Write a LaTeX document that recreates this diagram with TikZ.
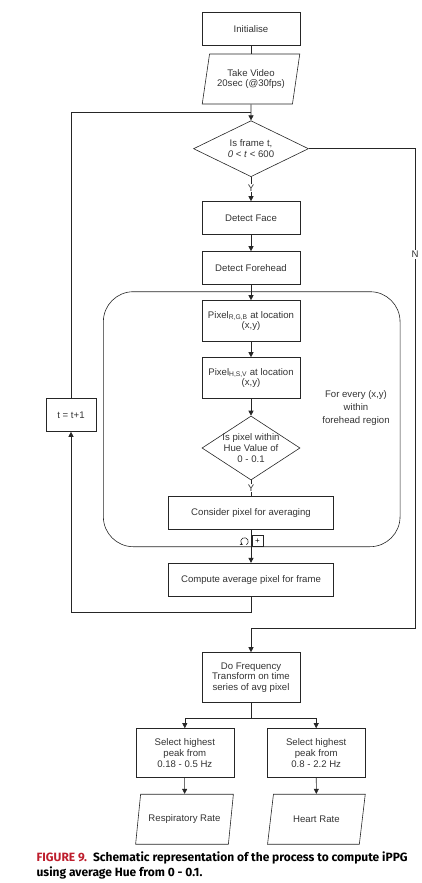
\documentclass[tikz,border=0pt]{standalone}
\usepackage{fontspec}
\setmainfont{Liberation Sans}
\newfontfamily\capfont{Fira Sans}
\usetikzlibrary{shapes.geometric,arrows.meta}

\definecolor{figred}{RGB}{190,30,45}
\newcommand{\diagfont}{\fontsize{9.6}{10.6}\selectfont}
\newcommand{\captionfont}{\capfont\bfseries\fontsize{12}{14.4}\selectfont}

\begin{document}
\begin{tikzpicture}[
  x=1pt, y=-1pt, line width=0.6pt, draw=black!85,
  proc/.style={
    draw, minimum width=98pt, minimum height=33pt,
    align=center, font=\diagfont, text=black!80, inner sep=2pt
  },
  io/.style={
    draw, trapezium, trapezium stretches=true,
    trapezium left angle=74, trapezium right angle=106,
    minimum width=98pt, minimum height=50pt,
    align=center, font=\diagfont, text=black!80, inner sep=1pt
  },
  decision/.style={draw, diamond, inner sep=0pt, align=center, font=\diagfont, text=black!80},
  arr/.style={-{Triangle[length=5pt,width=5pt]}},
  lbl/.style={font=\diagfont, text=black!80, fill=white, inner sep=1pt},
]
\useasboundingbox (0,0) rectangle (421,883);

%% --- Start of the loop ---------------------------------------------
\node[proc] (init)  at (251,29) {Initialise};
\node[io]   (video) at (251,79) {Take Video\\20sec (@30fps)};
\node[decision, aspect=2, minimum width=115pt, minimum height=56pt]
  (frame) at (251,148.7) {Is frame t,\\\textit{0} < \textit{t} < 600};
\node[proc] (face)  at (251,218) {Detect Face};
\node[proc] (fhead) at (251,268) {Detect Forehead};

%% --- Per-pixel region ------------------------------------------------
\node[draw, rounded corners=30pt, minimum width=296.7pt, minimum height=255pt]
  (region) at (251.7,419.2) {};
\node[proc, minimum height=41pt] (rgb) at (251,321) {Pixel\textsubscript{R,G,B} at location\\(x,y)};
\node[proc, minimum height=41pt] (hsv) at (251,378) {Pixel\textsubscript{H,S,V} at location\\(x,y)};
\node[decision, minimum width=98pt, minimum height=64pt] (hue) at (251,448) {};
\node[align=center, font=\diagfont, text=black!80] (huetxt) at (hue) {Is pixel within\\Hue Value of\\0 - 0.1};
\node[proc, minimum width=165pt] (consider) at (251,512.7) {Consider pixel for averaging};
\node[align=center, font=\diagfont, text=black!80] (every) at (356,408)
  {For every (x,y)\\[2pt]within\\[2pt]forehead region};

\node[proc, minimum width=165pt] (compute) at (251,579.7) {Compute average pixel for frame};
\node[proc, minimum width=50pt]  (tnext)   at (71,415) {t = t+1};

%% --- Frequency analysis ---------------------------------------------
\node[proc, minimum height=50pt] (freq)      at (251,677.5) {Do Frequency\\Transform on time\\series of avg pixel};
\node[proc, minimum height=49pt] (selresp)   at (184.8,753) {Select highest\\peak from\\0.18 - 0.5 Hz};
\node[proc, minimum height=49pt] (selheart)  at (316.2,753) {Select highest\\peak from\\0.8 - 2.2 Hz};
\node[io, trapezium left angle=69, trapezium right angle=111] (resp)  at (184.5,819.2) {Respiratory Rate};
\node[io, trapezium left angle=69, trapezium right angle=111] (heart) at (316.4,819.2) {Heart Rate};

%% --- Connectors -----------------------------------------------------
\draw (init) -- (video);
\draw[arr] (video) -- (frame);
\draw[arr] (frame) -- node[lbl, pos=0.45]{Y} (face);
\draw[arr] (face) -- (fhead);
\draw[arr] (fhead) -- (rgb);
\draw[arr] (rgb) -- (hsv);
\draw[arr] (hsv) -- (hue);
\draw (hue) -- node[lbl]{Y} (consider);
\draw[arr] (consider) -- (compute);

% loop back to the decision
\coordinate (loopbot) at (71,612);
\coordinate (looptop) at (71,112.7);
\draw[arr] (compute.south) |- (loopbot) -- (tnext.south);
\draw (tnext.north) -- (looptop) -- (looptop -| video.south);

% exit branch
\coordinate (nright) at (415,628.3);
\draw[arr] (frame.east) -| node[lbl, pos=0.61]{N} (nright) -| (freq.north);

% split to both peaks
\coordinate (split) at (251,718.3);
\draw (freq) -- (split);
\draw[arr] (split) -| (selresp.north);
\draw[arr] (split) -| (selheart.north);
\draw[arr] (selresp) -- (resp);
\draw[arr] (selheart) -- (heart);

% loop marker on the region
\node[draw, fill=white, minimum size=11pt, inner sep=0pt, font=\fontsize{8}{8}\selectfont] (plus) at (257.5,541) {+};
\coordinate (loopc) at (244.5,541.5);
\draw[-{Stealth[length=2.5pt,width=3pt]}] (loopc) ++(60:3.8) arc[start angle=60, end angle=-240, radius=3.8];

%% --- Caption --------------------------------------------------------
\node[anchor=west, align=left, font=\captionfont] (caption) at (33,865.5)
  {\textcolor{figred}{FIGURE 9.}\enspace Schematic representation of the process to compute iPPG\\using average Hue from 0 - 0.1.};

\end{tikzpicture}
\end{document}
